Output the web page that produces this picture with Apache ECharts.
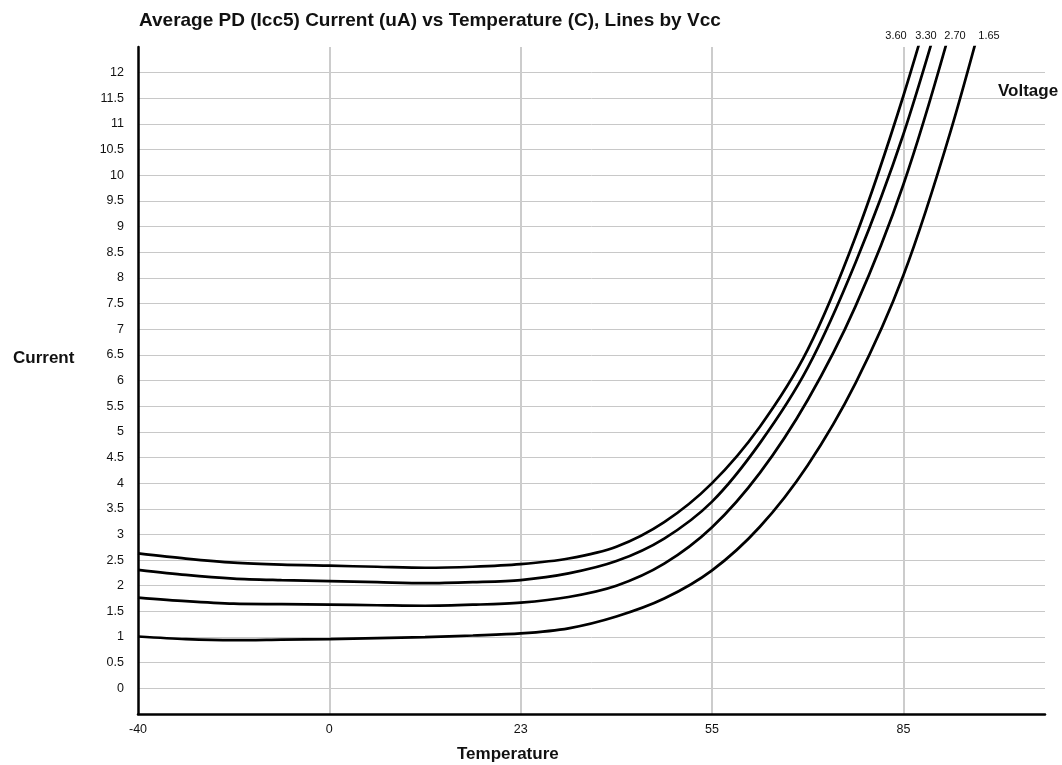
<!DOCTYPE html>
<html>
<head>
<meta charset="utf-8">
<script src="https://cdn.jsdelivr.net/npm/echarts@6/dist/echarts.min.js"></script>
<style>html,body{margin:0;padding:0;background:#fff;}#c{width:1062px;height:765px;}</style>
</head>
<body>
<div id="c"></div>
<script>
// Category tick labels of the temperature axis (evenly spaced positions 0..4)
const tempLabels = ['-40', '0', '23', '55', '85'];
// Sample positions along the temperature axis (in category-step units)
const xPos = [0, 0.25, 0.5, 0.75, 1, 1.25, 1.5, 1.75, 2, 2.25, 2.5, 2.75, 3, 3.25, 3.5, 3.75, 4, 4.25, 4.5];
// Series names (Vcc)
const seriesNames = ['3.60', '3.30', '2.70', '1.65'];
// Current values (uA) per Vcc
const v360 = [2.63, 2.53, 2.45, 2.41, 2.39, 2.37, 2.35, 2.37, 2.42, 2.53, 2.76, 3.24, 4.00, 5.10, 6.60, 8.80, 11.55, 14.75, 18.2];
const v330 = [2.31, 2.21, 2.14, 2.11, 2.09, 2.07, 2.05, 2.07, 2.11, 2.24, 2.48, 2.92, 3.64, 4.78, 6.25, 8.30, 10.80, 13.90, 17.3];
const v270 = [1.77, 1.70, 1.65, 1.64, 1.63, 1.62, 1.61, 1.63, 1.67, 1.78, 2.00, 2.43, 3.14, 4.20, 5.62, 7.45, 9.82, 12.90, 16.5];
const v165 = [1.01, 0.96, 0.94, 0.95, 0.96, 0.98, 1.00, 1.03, 1.07, 1.17, 1.40, 1.75, 2.30, 3.15, 4.35, 5.95, 8.05, 10.90, 14.3];
const seriesValues = [v360, v330, v270, v165];

const FONT = '"Liberation Sans", Arial, Helvetica, sans-serif';
const chart = echarts.init(document.getElementById('c'), null, {renderer: 'canvas'});

const labelX = [896, 926, 955, 989];

const option = {
  animation: false,
  backgroundColor: '#fff',
  title: [
    {text: 'Average PD (Icc5) Current (uA) vs Temperature (C), Lines by Vcc', left: 139, top: 11, padding: 0,
     textStyle: {fontFamily: FONT, fontSize: 19, fontWeight: 'bold', color: '#111'}},
    {text: 'Current', left: 13, top: 350, padding: 0,
     textStyle: {fontFamily: FONT, fontSize: 17, fontWeight: 'bold', color: '#111'}},
    {text: 'Temperature', left: 457, top: 746, padding: 0,
     textStyle: {fontFamily: FONT, fontSize: 17, fontWeight: 'bold', color: '#111'}},
    {text: 'Voltage', left: 998, top: 83, padding: 0,
     textStyle: {fontFamily: FONT, fontSize: 17, fontWeight: 'bold', color: '#111'}}
  ],
  grid: {left: 138, right: 17, top: 47, bottom: 51, containLabel: false},
  xAxis: {
    type: 'value', min: 0, max: 4.74, interval: 1,
    axisLine: {show: true, onZero: false, lineStyle: {color: '#000', width: 2.5}},
    axisTick: {show: false},
    axisLabel: {
      margin: 9, color: '#111', fontFamily: FONT, fontSize: 12.5, showMaxLabel: false,
      formatter: function (v) {
        const i = Math.round(v);
        return (Math.abs(v - i) < 1e-6 && i >= 0 && i < tempLabels.length) ? tempLabels[i] : '';
      }
    },
    splitLine: {show: true, showMinLine: false, showMaxLine: false, lineStyle: {color: '#cccccc', width: 2}}
  },
  yAxis: {
    type: 'value', min: -0.5, max: 12.5, interval: 0.5,
    axisLine: {show: true, onZero: false, lineStyle: {color: '#000', width: 2.5}},
    axisTick: {show: false},
    axisLabel: {
      margin: 14, color: '#111', fontFamily: FONT, fontSize: 12.5, showMaxLabel: false, showMinLabel: false,
      formatter: function (v) { return (v < 0 || v > 12) ? '' : String(v); }
    },
    splitLine: {show: true, showMinLine: false, showMaxLine: false, lineStyle: {color: '#c8c8c8', width: 1}}
  },
  graphic: seriesNames.map(function (n, k) {
    return {type: 'text', x: labelX[k], y: 36, silent: true,
      style: {text: n, align: 'center', verticalAlign: 'middle', fill: '#111', font: '11px ' + FONT}};
  }),
  series: seriesNames.map(function (n, k) {
    return {
      name: n, type: 'line', smooth: 0.3, showSymbol: false, clip: true,
      lineStyle: {color: '#000', width: 2.7},
      data: xPos.map(function (x, i) { return [x, seriesValues[k][i]]; })
    };
  })
};
chart.setOption(option);
</script>
</body>
</html>
